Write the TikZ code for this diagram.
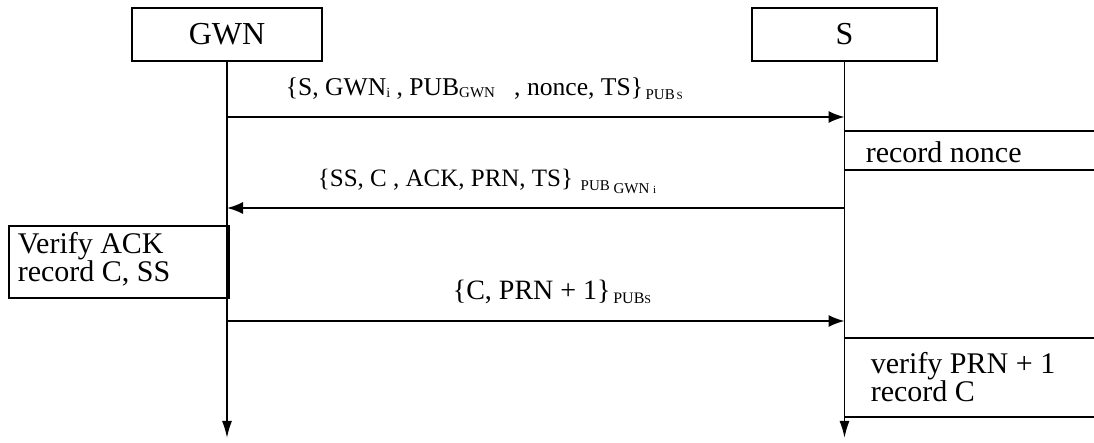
\documentclass[tikz,border=0pt]{standalone}
\usepackage{fontspec}
\setmainfont{Liberation Serif}
\usetikzlibrary{arrows.meta}
% lowered small text for the key subscripts
\newcommand\lowsub[3]{\raisebox{-#1pt}{\fontsize{#2pt}{#2pt}\selectfont #3}}
\begin{document}
\begin{tikzpicture}[x=0.5pt,y=-0.5pt,line width=0.85pt,
  actor/.style={draw,minimum height=26.5pt,inner sep=0pt,font=\fontsize{16pt}{16pt}\selectfont},
  life/.style={-{Latex[length=8.5pt,width=5pt]}},
  msg/.style={-{Latex[length=8pt,width=6pt]}},
  lbl/.style={anchor=base west,inner sep=0pt,font=\fontsize{12.8pt}{15pt}\selectfont},
  note/.style={anchor=north west,inner sep=0pt,align=left,font=\fontsize{15pt}{14pt}\selectfont}]
\useasboundingbox (0,0) rectangle (1094,443);

% participants and their lifelines
\node[actor,minimum width=95pt] (gwn) at (227,34.5) {GWN};
\node[actor,minimum width=92.5pt] (s) at (844.5,34.5) {S};
\coordinate (gend) at (227,438);
\coordinate (send) at (844.5,438);
\draw[life] (gwn.south) -- (gend);
\draw[life] (s.south) -- (send);

% message rows
\coordinate (y1) at (0,117);
\coordinate (y2) at (0,208);
\coordinate (y3) at (0,321);

\draw[msg] (gwn |- y1) -- (s |- y1);
\node[lbl] (l1) at (285,96) {\{S, GWN\lowsub{1}{7}{i} , PUB\lowsub{1}{7.5}{GWN}\ \ \ , nonce, TS\}\lowsub{2}{7.5}{\,PUB\lowsub{0}{5.5}{\,S}}};

\draw[msg] (s |- y2) -- (gwn |- y2);
\node[lbl,font=\fontsize{12.5pt}{15pt}\selectfont] (l2) at (317,187) {\{SS, C , ACK, PRN, TS\}\lowsub{2}{7.5}{\ \ PUB \lowsub{1.5}{7.5}{GWN \lowsub{0}{5.5}{i}}}};

\draw[msg] (gwn |- y3) -- (s |- y3);
\node[lbl,font=\fontsize{14pt}{15pt}\selectfont] (l3) at (452,300) {\{C, PRN + 1\}\lowsub{2}{8}{\,PUB\lowsub{0}{6}{S}}};

% local actions
\coordinate (rn1) at (1094,131);
\coordinate (rn2) at (1094,170);
\draw (s |- rn1) -- (rn1);
\draw (s |- rn2) -- (rn2);
\node[note] (rn) at (865,141) {record nonce};

\node[draw,anchor=north west,minimum width=110pt,minimum height=36pt,inner sep=0pt] (vbox) at (8,225) {};
\node[note] (vt) at (17,232) {Verify ACK\\[0pt]record C, SS};

\coordinate (vp1) at (1094,338);
\coordinate (vp2) at (1094,417);
\draw (s |- vp1) -- (vp1);
\draw (s |- vp2) -- (vp2);
\node[note] (vp) at (870,352) {verify PRN + 1\\[0pt]record C};
\end{tikzpicture}
\end{document}
